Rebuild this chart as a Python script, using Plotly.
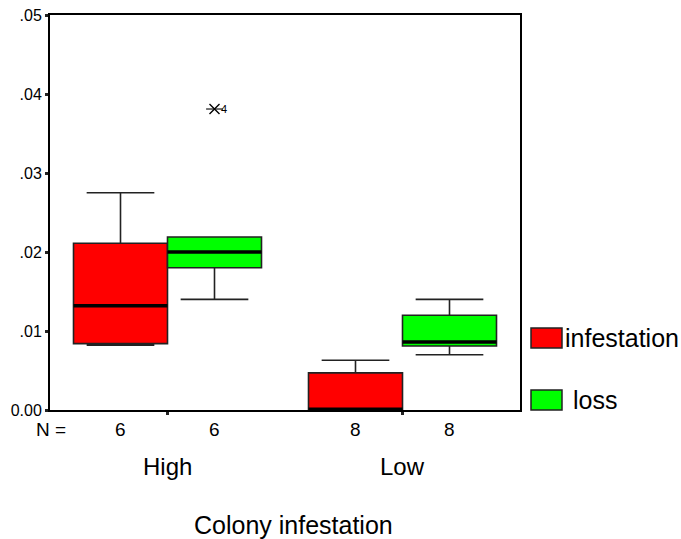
import plotly.graph_objects as go

# ---------------- data ----------------
groups = ["High", "Low"]
series_names = ["infestation", "loss"]

inf_lower = [0.0082, 0.0000]
inf_q1 = [0.0084, 0.0000]
inf_median = [0.0132, 0.0001]
inf_q3 = [0.0211, 0.0047]
inf_upper = [0.0275, 0.0063]
inf_n = [6, 8]

loss_lower = [0.0140, 0.0070]
loss_q1 = [0.0180, 0.0081]
loss_median = [0.0200, 0.0086]
loss_q3 = [0.0219, 0.0120]
loss_upper = [0.0219, 0.0140]
loss_n = [6, 8]

outlier_group = "High"
outlier_series = "loss"
outlier_value = 0.0381
outlier_label = "4"

y_tickvals = [0.0, 0.01, 0.02, 0.03, 0.04, 0.05]
y_ticktext = ["0.00", ".01", ".02", ".03", ".04", ".05"]

# ---------------- style / layout constants ----------------
colors = {"infestation": "#ff0000", "loss": "#00ff00"}
box_w = 0.4
offsets = {"infestation": -box_w / 2, "loss": box_w / 2}
FONT = "Liberation Sans, Arial, sans-serif"

W, H = 681, 539
ml, mr, mt, mb = 50, 161, 15, 129
pw, ph = W - ml - mr, H - mt - mb

stats = {
    "infestation": dict(lower=inf_lower, q1=inf_q1, median=inf_median, q3=inf_q3, upper=inf_upper, n=inf_n),
    "loss": dict(lower=loss_lower, q1=loss_q1, median=loss_median, q3=loss_q3, upper=loss_upper, n=loss_n),
}

fig = go.Figure()
annotations = []

for s in series_names:
    st = stats[s]
    xs = [i + offsets[s] for i in range(len(groups))]
    fig.add_trace(go.Box(
        x=xs, q1=st["q1"], median=st["median"], q3=st["q3"],
        lowerfence=st["lower"], upperfence=st["upper"],
        width=box_w, whiskerwidth=0.72, boxpoints=False,
        fillcolor=colors[s], line=dict(color="#222222", width=1.6),
        name=s, showlegend=False, hoverinfo="skip",
    ))
    # thick median lines
    mx, my = [], []
    for x, m in zip(xs, st["median"]):
        mx += [x - box_w / 2, x + box_w / 2, None]
        my += [m, m, None]
    fig.add_trace(go.Scatter(x=mx, y=my, mode="lines",
                             line=dict(color="black", width=3.5),
                             showlegend=False, hoverinfo="skip"))
    # N counts
    for x, n in zip(xs, st["n"]):
        annotations.append(dict(x=x, xref="x", y=0, yref="paper", yshift=-19,
                                text=str(n), showarrow=False, yanchor="middle",
                                font=dict(size=19, color="black", family=FONT)))

# outlier
ox = groups.index(outlier_group) + offsets[outlier_series]
fig.add_trace(go.Scatter(x=[ox], y=[outlier_value], mode="markers",
                         marker=dict(symbol="x-thin-open", size=10, color="black",
                                     line=dict(color="black", width=1.4)),
                         showlegend=False, hoverinfo="skip"))
fig.add_trace(go.Scatter(x=[ox], y=[outlier_value], mode="markers",
                         marker=dict(symbol="line-ew-open", size=12, color="black",
                                     line=dict(color="black", width=1.1)),
                         showlegend=False, hoverinfo="skip"))
annotations.append(dict(x=ox, xref="x", y=outlier_value, yref="y", xshift=9,
                        text=outlier_label, showarrow=False, yanchor="middle",
                        font=dict(size=11, color="black", family=FONT)))

# "N =" label
annotations.append(dict(x=0, xref="paper", y=0, yref="paper", yshift=-19, xshift=1,
                        text="N =", showarrow=False, xanchor="center", yanchor="middle",
                        font=dict(size=19, color="black", family=FONT)))
# group labels
for i, g in enumerate(groups):
    annotations.append(dict(x=i, xref="x", y=0, yref="paper", yshift=-56,
                            text=g, showarrow=False, yanchor="middle",
                            font=dict(size=24, color="black", family=FONT)))
# axis title
annotations.append(dict(x=0.5, xref="paper", y=0, yref="paper", yshift=-115, xshift=8,
                        text="Colony infestation", showarrow=False, yanchor="middle",
                        font=dict(size=25, color="black", family=FONT)))

# custom legend (pixel positions relative to plot area)
shapes = []
legend_items = [("infestation", 328, 563), ("loss", 390, 571)]
for name, top_px, text_px in legend_items:
    x0 = (531 - ml) / pw
    x1 = (562 - ml) / pw
    y1 = ((mt + ph) - top_px) / ph
    y0 = y1 - 20 / ph
    shapes.append(dict(type="rect", xref="paper", yref="paper", x0=x0, x1=x1, y0=y0, y1=y1,
                       fillcolor=colors[name], line=dict(color="#222222", width=1.5)))
    annotations.append(dict(x=(text_px - ml) / pw, xref="paper", y=(y0 + y1) / 2, yref="paper",
                            text=name, showarrow=False, xanchor="left", yanchor="middle",
                            font=dict(size=25, color="black", family=FONT)))

fig.update_layout(
    width=W, height=H,
    margin=dict(l=ml, r=mr, t=mt, b=mb, autoexpand=False),
    paper_bgcolor="white", plot_bgcolor="white",
    font=dict(family=FONT, color="black"),
    annotations=annotations, shapes=shapes,
    showlegend=False,
)
fig.update_xaxes(range=[-0.5, len(groups) - 0.5], tickvals=list(range(len(groups))),
                 showticklabels=False, ticks="outside", ticklen=3, tickwidth=3, tickcolor="#222",
                 showgrid=False, zeroline=False, showline=True, linecolor="black",
                 linewidth=2, mirror=True, automargin=False)
fig.update_yaxes(range=[0, 0.05], tickvals=y_tickvals, ticktext=y_ticktext,
                 ticks="outside", ticklen=3, tickwidth=3, tickcolor="#222",
                 tickfont=dict(size=16, color="black", family=FONT),
                 showgrid=False, zeroline=False, showline=True, linecolor="black",
                 linewidth=2, mirror=True, automargin=False)

fig.write_html("out.html", config={"displayModeBar": False},
               post_script="document.body.style.margin='0';")
